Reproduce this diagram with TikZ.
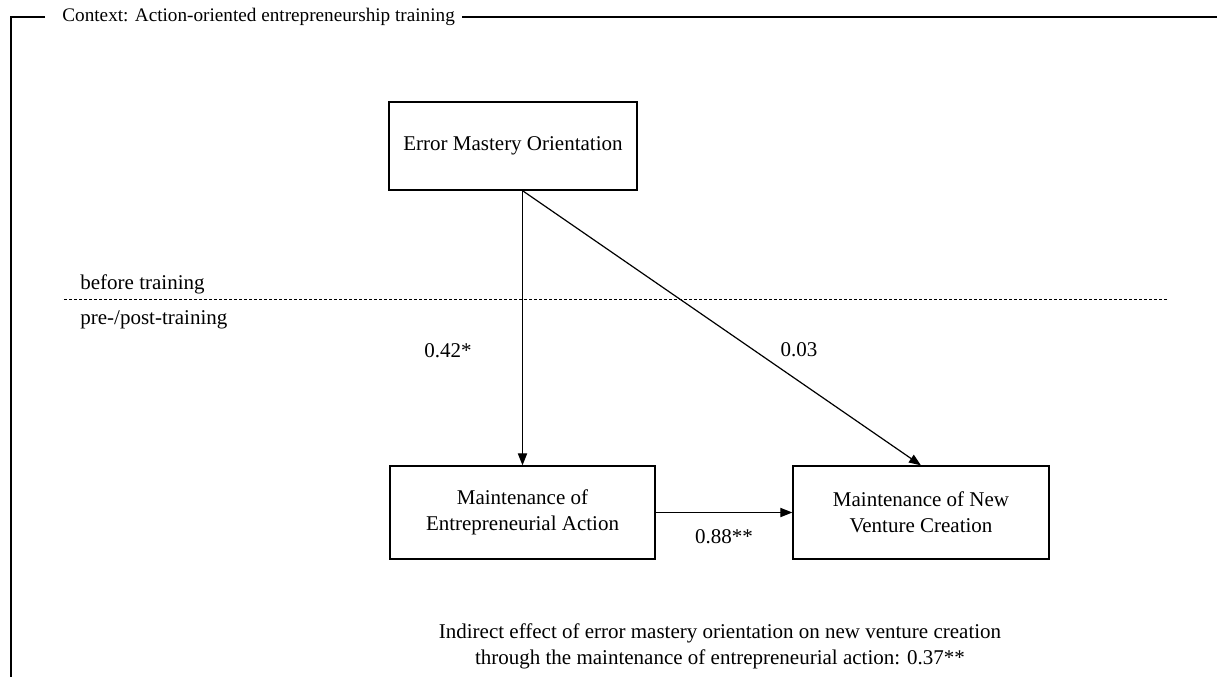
\documentclass[tikz,border=0pt]{standalone}
\usepackage{fontspec}
\setmainfont{Liberation Serif}
\usetikzlibrary{arrows.meta,positioning}
\tikzset{
  varbox/.style={draw,line width=0.65pt,align=center,inner sep=0pt},
  path/.style={line width=0.6pt,-{Triangle[length=6pt,width=4.6pt]}},
  coef/.style={inner sep=0pt}
}
\begin{document}
\begin{tikzpicture}[x=0.5pt,y=-0.5pt,font=\fontsize{10.5}{13}\selectfont]
\useasboundingbox (0,0) rectangle (1217,677);
\node[anchor=west,inner sep=0pt,font=\fontsize{9.6}{11}\selectfont] (ctx) at (62,17) {Context: Action-oriented entrepreneurship training};
\coordinate (ctxl) at (45,17);
\coordinate (ctxc) at (11,17);
\coordinate (ctxb) at (11,677);
\coordinate (ctxr) at (1217,17);
\draw[line width=0.9pt] (ctxl) -- (ctxc) -- (ctxb);
\draw[line width=0.9pt] ([xshift=3.5pt]ctx.east) -- (ctxr);
\coordinate (splitl) at (64,299);
\coordinate (splitr) at (1167,299);
\draw[line width=0.45pt,dash pattern=on 1.5pt off 1pt] (splitl) -- (splitr);
\node[anchor=west,coef] (before) at (80,284) {before training};
\node[anchor=west,coef] (prepost) at (80,320) {pre-/post-training};
\node[varbox,minimum width=124pt,minimum height=44pt] (emo) at (513,146) {Error Mastery Orientation};
\node[varbox,minimum width=132.5pt,minimum height=46.5pt] (mea) at (522.5,512.5) {Maintenance of\\Entrepreneurial Action};
\node[varbox,minimum width=128pt,minimum height=46.5pt] (mnvc) at (921,512.5) {Maintenance of New\\Venture Creation};
\coordinate (emoout) at (mea.north |- emo.south);
\draw[path] (emoout) -- (mea.north);
\draw[path] (emoout) -- (mnvc.north);
\draw[path] (mea.east) -- (mnvc.west);
\node[coef] (a) at (448,351) {0.42*};
\node[coef] (c) at (799,350) {0.03};
\node[coef] (b) at (724,537) {0.88**};
\node[align=center,inner sep=0pt] (ind) at (720,646) {Indirect effect of error mastery orientation on new venture creation\\through the maintenance of entrepreneurial action: 0.37**};
\end{tikzpicture}
\end{document}
